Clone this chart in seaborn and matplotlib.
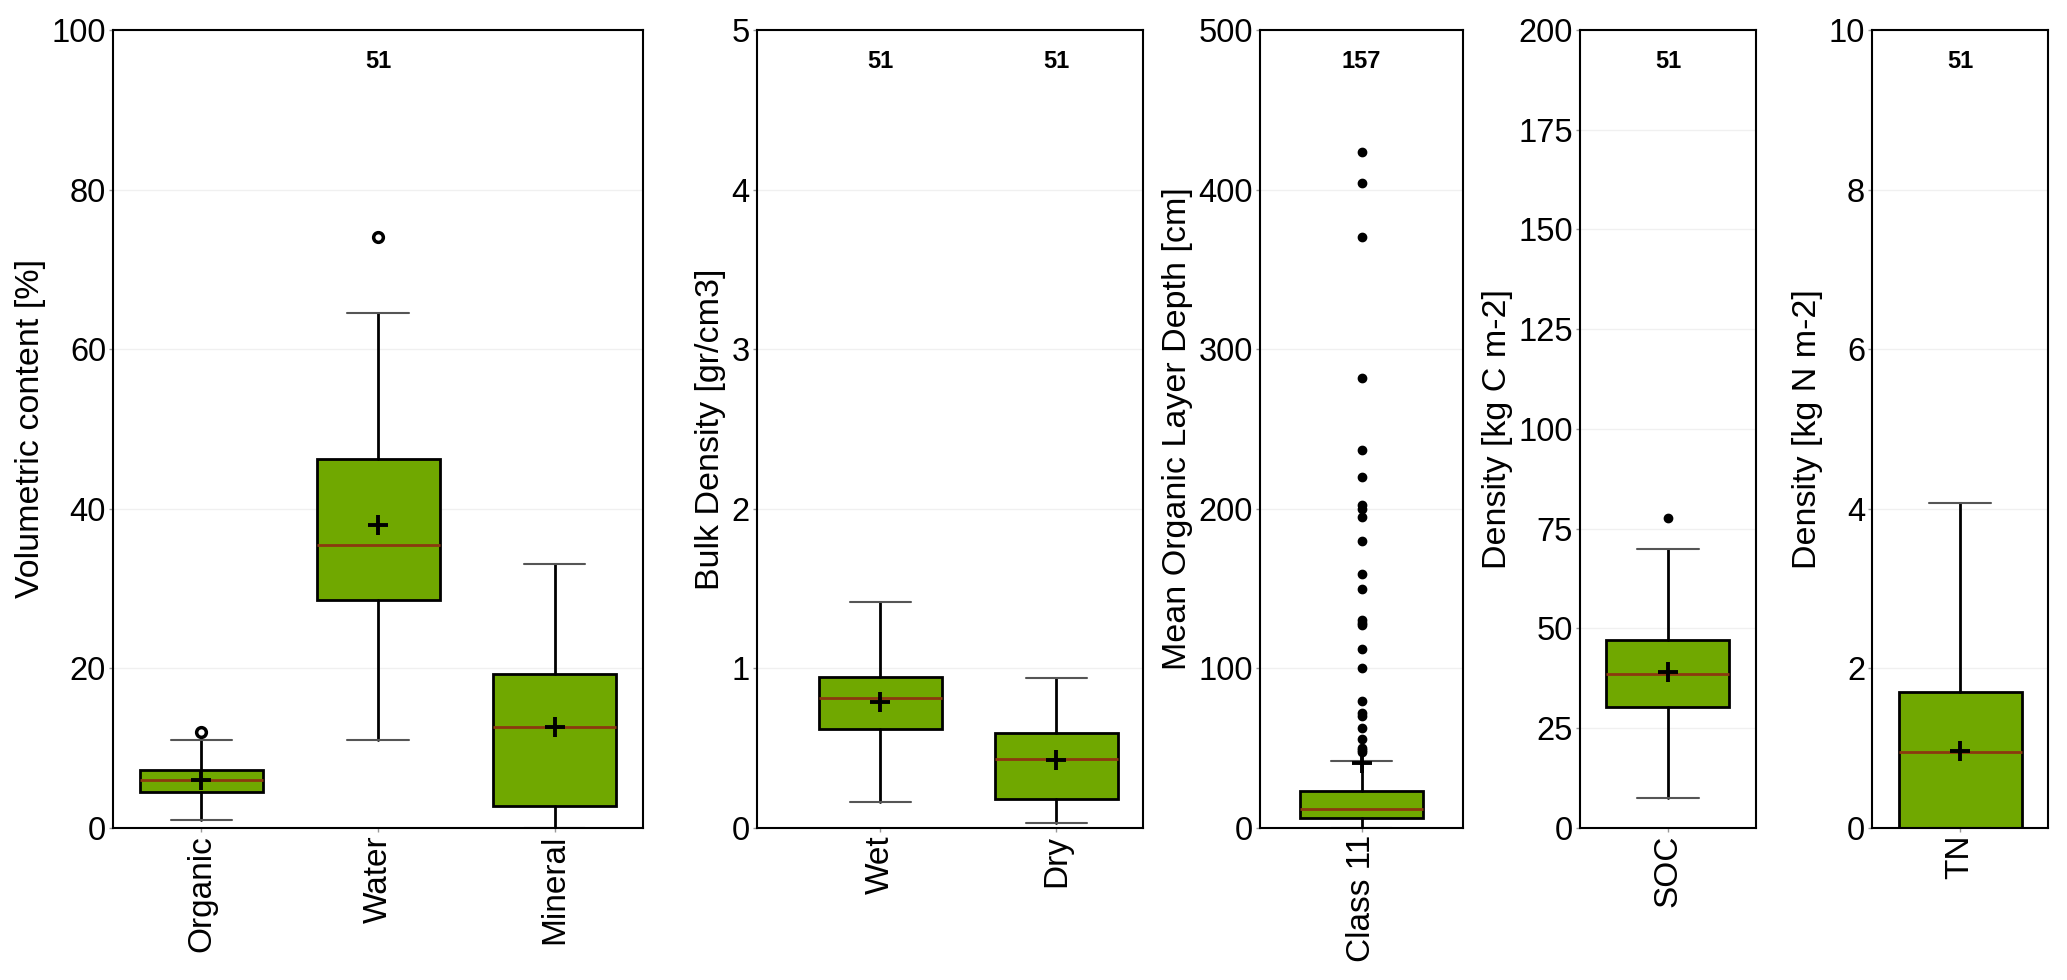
import matplotlib
matplotlib.use("Agg")
import matplotlib.pyplot as plt
import matplotlib.transforms as mtransforms
import seaborn as sns

sns.set_theme(style="white")
plt.rcParams["font.family"] = ["Liberation Sans", "DejaVu Sans"]

# Panel 1 - volumetric content
vol_labels = ["Organic", "Water", "Mineral"]
vol_q1 = [4.5, 28.6, 2.8]
vol_med = [6.0, 35.5, 12.6]
vol_q3 = [7.3, 46.3, 19.25]
vol_lo = [1.0, 11.0, 0.0]
vol_hi = [11.0, 64.5, 33.1]
vol_mean = [6.0, 38.0, 12.6]
vol_out = [[12.0], [74.1], []]
vol_n = [None, 51, None]

# Panel 2 - bulk density
bd_labels = ["Wet", "Dry"]
bd_q1 = [0.622, 0.182]
bd_med = [0.815, 0.43]
bd_q3 = [0.948, 0.597]
bd_lo = [0.163, 0.033]
bd_hi = [1.414, 0.94]
bd_mean = [0.79, 0.424]
bd_out = [[], []]
bd_n = [51, 51]

# Panel 3 - organic layer depth
depth_labels = ["Class 11"]
depth_q1 = [6.5]
depth_med = [11.8]
depth_q3 = [23.2]
depth_lo = [0.0]
depth_hi = [41.8]
depth_mean = [40.5]
depth_out = [[423.7, 403.9, 370.0, 282.0, 236.6, 220.1, 202.4, 199.9, 195.1,
              179.8, 159.0, 149.7, 130.3, 128.6, 127.0, 111.9, 100.0, 79.7,
              71.8, 70.3, 62.7, 55.8, 50.2, 48.7, 47.7]]
depth_n = [157]

# Panel 4 - SOC
soc_labels = ["SOC"]
soc_q1 = [30.4]
soc_med = [38.5]
soc_q3 = [47.2]
soc_lo = [7.4]
soc_hi = [70.0]
soc_mean = [39.0]
soc_out = [[77.6]]
soc_n = [51]

# Panel 5 - TN
tn_labels = ["TN"]
tn_q1 = [0.0]
tn_med = [0.95]
tn_q3 = [1.71]
tn_lo = [0.0]
tn_hi = [4.07]
tn_mean = [0.96]
tn_out = [[]]
tn_n = [51]

FIG_W, FIG_H, DPI = 20.67, 9.8, 100
BOX_PX = 123
GREEN = "#70a800"
MEDIAN = "#8b3a0f"

fig = plt.figure(figsize=(FIG_W, FIG_H), dpi=DPI)
bottom, height = 0.1551, 0.8143


def draw_panel(rect, labels, q1, med, q3, lo, hi, mean, out, counts,
               ylim, yticks, ylabel, xlim, hollow):
    ax = fig.add_axes([rect[0], bottom, rect[1], height])
    stats = []
    for i, lab in enumerate(labels):
        stats.append(dict(label=lab, q1=q1[i], med=med[i], q3=q3[i],
                          whislo=lo[i], whishi=hi[i], mean=mean[i],
                          fliers=out[i]))
    px_per_unit = rect[1] * FIG_W * DPI / (xlim[1] - xlim[0])
    w = BOX_PX / px_per_unit
    if hollow:
        flier = dict(marker="o", markerfacecolor="white", markeredgecolor="black",
                     markeredgewidth=2.5, markersize=7)
    else:
        flier = dict(marker="o", markerfacecolor="black", markeredgecolor="black",
                     markersize=6)
    ax.bxp(stats, positions=range(len(labels)), widths=w, patch_artist=True,
           showmeans=True, showfliers=True,
           boxprops=dict(facecolor=GREEN, edgecolor="black", linewidth=2),
           medianprops=dict(color=MEDIAN, linewidth=2),
           whiskerprops=dict(color="black", linewidth=2),
           capprops=dict(color="#555555", linewidth=1.5),
           meanprops=dict(marker="+", markeredgecolor="black", markersize=14,
                          markeredgewidth=2.8),
           flierprops=flier)
    ax.set_xlim(*xlim)
    ax.set_ylim(*ylim)
    ax.set_yticks(yticks)
    ax.set_xticks(range(len(labels)))
    ax.set_xticklabels(labels, rotation=90, fontsize=24)
    ax.set_ylabel(ylabel, fontsize=24.5, color="black", labelpad=4)
    ax.yaxis.grid(True, color="#f0f0f0", linewidth=1)
    ax.xaxis.grid(False)
    ax.set_axisbelow(True)
    ax.tick_params(axis="both", length=3, width=1, color="#999999",
                   labelcolor="black", left=True, bottom=True, pad=2)
    ax.tick_params(axis="y", labelsize=23.5)
    for sp in ax.spines.values():
        sp.set_visible(True)
        sp.set_color("black")
        sp.set_linewidth(1.5)
    trans = mtransforms.blended_transform_factory(ax.transData, ax.transAxes)
    for i, n in enumerate(counts):
        if n is not None:
            ax.text(i, 0.96, str(n), transform=trans, ha="center", va="center",
                    fontsize=17, fontweight="bold", color="black")
    return ax


draw_panel((0.0547, 0.2564), vol_labels, vol_q1, vol_med, vol_q3, vol_lo, vol_hi,
           vol_mean, vol_out, vol_n, (0, 100), range(0, 101, 20),
           "Volumetric content [%]", (-0.5, 2.5), True)
draw_panel((0.3662, 0.1867), bd_labels, bd_q1, bd_med, bd_q3, bd_lo, bd_hi,
           bd_mean, bd_out, bd_n, (0, 5), range(0, 6),
           "Bulk Density [gr/cm3]", (-0.70, 1.49), False)
draw_panel((0.6096, 0.0982), depth_labels, depth_q1, depth_med, depth_q3, depth_lo,
           depth_hi, depth_mean, depth_out, depth_n, (0, 500), range(0, 501, 100),
           "Mean Organic Layer Depth [cm]", (-0.5, 0.5), False)
draw_panel((0.7644, 0.0851), soc_labels, soc_q1, soc_med, soc_q3, soc_lo, soc_hi,
           soc_mean, soc_out, soc_n, (0, 200), range(0, 201, 25),
           "Density [kg C m-2]", (-0.5, 0.5), False)
draw_panel((0.9057, 0.0851), tn_labels, tn_q1, tn_med, tn_q3, tn_lo, tn_hi,
           tn_mean, tn_out, tn_n, (0, 10), range(0, 11, 2),
           "Density [kg N m-2]", (-0.5, 0.5), False)

fig.savefig("out.png", dpi=DPI)
